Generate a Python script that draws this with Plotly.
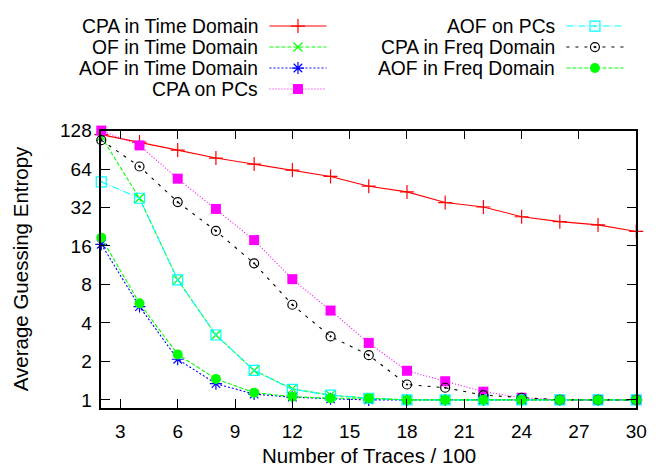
import math
import plotly.graph_objects as go

# Number of traces (in hundreds)
traces = [2, 4, 6, 8, 10, 12, 14, 16, 18, 20, 22, 24, 26, 28, 30]

# Average guessing entropy per attack
cpa_time = [119, 104, 90, 78, 70, 62.8, 56, 47, 42.4, 35, 32.3, 27.1, 24.8, 23.4, 20.8]
of_time = [115, 37.8, 8.7, 3.22, 1.7, 1.22, 1.09, 1.03, 1.0, 1.0, 1.0, 1.0, 1.0, 1.0, 1.0]
aof_time = [16.5, 5.37, 2.08, 1.34, 1.11, 1.05, 1.02, 1.0, 1.0, 1.0, 1.0, 1.0, 1.0, 1.0, 1.0]
cpa_pcs = [128, 98, 53.8, 31.2, 17.8, 8.8, 5.0, 2.79, 1.69, 1.40, 1.16, 1.04, 1.0, 1.0, 1.0]
aof_pcs = [50.8, 37.8, 8.7, 3.22, 1.70, 1.21, 1.09, 1.03, 1.0, 1.0, 1.0, 1.0, 1.0, 1.0, 1.0]
cpa_freq = [107.6, 67, 35.3, 21, 11.7, 5.55, 3.14, 2.24, 1.32, 1.245, 1.09, 1.04, 1.0, 1.0, 1.0]
aof_freq = [18.6, 5.7, 2.27, 1.46, 1.14, 1.06, 1.03, 1.03, 1.0, 1.0, 1.0, 1.0, 1.0, 1.0, 1.0]

x_ticks = [3, 6, 9, 12, 15, 18, 21, 24, 27, 30]
y_ticks = [1, 2, 4, 8, 16, 32, 64, 128]

W, H = 662, 468
FONT = "Liberation Sans, Arial, Helvetica, sans-serif"
TEXT_SIZE = 20.5
KEY_SIZE = 19.3
TICK_SIZE = 19

series = [
    ("CPA in Time Domain", cpa_time, "#ff0000", "solid", "cross-thin", 10, False),
    ("OF in Time Domain", of_time, "#00ff00", "4px,2px", "x-thin", 9, False),
    ("AOF in Time Domain", aof_time, "#0000ff", "2px,2px", "asterisk-open", 10, False),
    ("CPA on PCs", cpa_pcs, "#ff00ff", "1px,2px", "square", 10, True),
    ("AOF on PCs", aof_pcs, "#00ffff", "7px,2px,1px,2px", "square-open-dot", 10, False),
    ("CPA in Freq Domain", cpa_freq, "#000000", "3px,6px", "circle-open-dot", 9, False),
    ("AOF in Freq Domain", aof_freq, "#00ff00", "4px,2px", "circle", 10, True),
]

fig = go.Figure()


def marker_style(color, symbol, size, filled):
    if filled:
        return dict(symbol=symbol, size=size, color=color, line=dict(width=0))
    return dict(symbol=symbol, size=size, color=color, line=dict(color=color, width=1.2))


for name, vals, color, dash, symbol, size, filled in series:
    fig.add_trace(go.Scatter(
        x=traces, y=vals, name=name, mode="lines+markers",
        line=dict(color=color, width=1.1, dash=dash),
        marker=marker_style(color, symbol, size, filled),
        cliponaxis=False, showlegend=False, xaxis="x", yaxis="y",
    ))

# Key: two columns, text right-aligned with the line sample on its right
key_cols = [(262, 274, 332), (564, 576, 634)]
key_rows = [16.5, 38.1, 59.7, 81.3]
for i, (name, vals, color, dash, symbol, size, filled) in enumerate(series):
    col = 0 if i < 4 else 1
    row = i if i < 4 else i - 4
    tx, lx0, lx1 = key_cols[col]
    ry = key_rows[row]
    fig.add_annotation(x=tx / W, y=1 - ry / H, xref="paper", yref="paper",
                       text=name, showarrow=False, xanchor="right", yanchor="middle",
                       borderpad=0, borderwidth=0,
                       font=dict(family=FONT, size=KEY_SIZE, color="#000000"))
    fig.add_trace(go.Scatter(
        x=[lx0, lx1], y=[ry, ry], mode="lines",
        line=dict(color=color, width=1.1, dash=dash),
        showlegend=False, hoverinfo="skip", xaxis="x2", yaxis="y2",
    ))
    fig.add_trace(go.Scatter(
        x=[(lx0 + lx1) / 2], y=[ry], mode="markers",
        marker=marker_style(color, symbol, size, filled),
        showlegend=False, hoverinfo="skip", xaxis="x2", yaxis="y2",
    ))

# Plot area in pixels
px0, px1 = 103, 647
py0, py1 = 124, 409

axis_common = dict(
    showline=True, linecolor="#000000", linewidth=1.5, mirror="ticks",
    ticks="inside", ticklen=9, tickwidth=1.3, tickcolor="#000000",
    showgrid=False, zeroline=False,
    tickfont=dict(family=FONT, size=TICK_SIZE, color="#000000"),
)

fig.update_layout(
    width=W, height=H,
    margin=dict(l=0, r=0, t=0, b=0),
    paper_bgcolor="#ffffff", plot_bgcolor="rgba(0,0,0,0)",
    xaxis=dict(domain=[px0 / W, px1 / W], range=[2, 30], tickvals=x_ticks,
               ticktext=[str(t) for t in x_ticks], anchor="y",
               ticklabelstandoff=6, **axis_common),
    yaxis=dict(domain=[1 - py1 / H, 1 - py0 / H], type="log",
               range=[math.log10(0.87), math.log10(128)], tickvals=y_ticks,
               ticktext=[str(t) for t in y_ticks], anchor="x",
               ticklabelstandoff=4, **axis_common),
    xaxis2=dict(domain=[0, 1], range=[0, W], visible=False, anchor="y2"),
    yaxis2=dict(domain=[0, 1], range=[H, 0], visible=False, anchor="x2"),
)

# Axis titles
fig.add_annotation(x=(px0 + px1) / 2 / W, y=1 - 458 / H, xref="paper", yref="paper",
                   text="Number of Traces / 100", showarrow=False,
                   xanchor="center", yanchor="middle",
                   font=dict(family=FONT, size=TEXT_SIZE, color="#000000"))
fig.add_annotation(x=21 / W, y=1 - 266 / H, xref="paper", yref="paper",
                   text="Average Guessing Entropy", showarrow=False, textangle=-90,
                   xanchor="center", yanchor="middle",
                   font=dict(family=FONT, size=TEXT_SIZE, color="#000000"))

fig.write_html("out.html")
